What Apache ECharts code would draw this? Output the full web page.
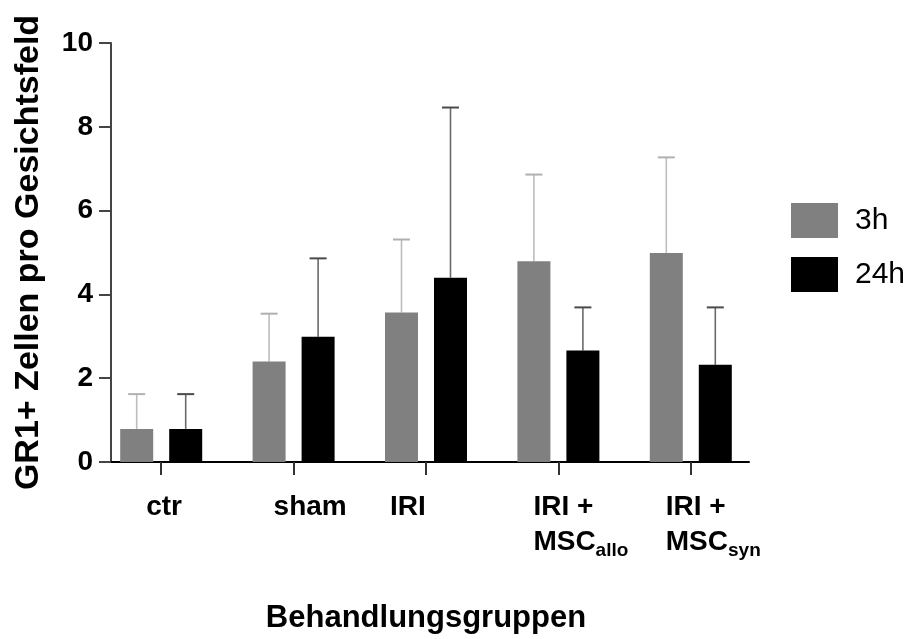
<!DOCTYPE html>
<html>
<head>
<meta charset="utf-8">
<script src="https://cdn.jsdelivr.net/npm/echarts@6/dist/echarts.min.js"></script>
<style>html,body{margin:0;padding:0;background:#fff}#c{width:910px;height:639px}</style>
</head>
<body>
<div id="c"></div>
<script>
// ---- data ----
const categories = ['ctr', 'sham', 'IRI', 'IRI +\nMSC{sub|allo}', 'IRI +\nMSC{sub|syn}'];
const seriesNames = ['3h', '24h'];
const mean3h = [0.79, 2.40, 3.57, 4.79, 4.99];
const sd3h = [0.83, 1.14, 1.74, 2.07, 2.28];
const mean24h = [0.79, 2.99, 4.40, 2.66, 2.32];
const sd24h = [0.83, 1.87, 4.06, 1.03, 1.37];
const yTicks = [0, 2, 4, 6, 8, 10];
const yTitle = 'GR1+ Zellen pro Gesichtsfeld';
const xTitle = 'Behandlungsgruppen';

// ---- styling ----
const FONT = 'Liberation Sans, Arial, sans-serif';
const labelShift = [-15, -20, -36, -25, -25];
const BAR_W = 33, BAR_GAP = 16;

const chart = echarts.init(document.getElementById('c'));

function errorSeries(name, means, sds, side, color, capColor) {
  return {
    type: 'custom',
    name: name + ' err',
    xAxisIndex: 0, yAxisIndex: 0,
    z: 1,
    silent: true,
    encode: { x: 0, y: 1 },
    data: means.map((m, i) => [i, m, sds[i]]),
    renderItem: function (params, api) {
      const i = api.value(0), m = api.value(1), s = api.value(2);
      const base = api.coord([i, m]);
      const top = api.coord([i, m + s]);
      const x = base[0] + side * (BAR_W / 2 + BAR_GAP / 2);
      const cap = 8.5;
      return {
        type: 'group',
        children: [
          { type: 'line', shape: { x1: x, y1: base[1], x2: x, y2: top[1] }, style: { stroke: color, lineWidth: 1.6 } },
          { type: 'line', shape: { x1: x - cap, y1: top[1], x2: x + cap, y2: top[1] }, style: { stroke: capColor, lineWidth: 2 } }
        ]
      };
    }
  };
}

const richStyles = {
  sub: { fontSize: 19, fontWeight: 'bold', color: '#000', fontFamily: FONT, lineHeight: 16, verticalAlign: 'bottom' }
};

const option = {
  backgroundColor: '#fff',
  animation: false,
  textStyle: { fontFamily: FONT },
  legend: {
    data: seriesNames,
    orient: 'vertical',
    left: 791, top: 203, padding: 0,
    itemWidth: 47, itemHeight: 35, itemGap: 19,
    icon: 'rect',
    textStyle: { fontSize: 30, color: '#000', fontFamily: FONT, padding: [0, 0, 0, 12] }
  },
  grid: [
    { left: 95, right: 153, top: 43, bottom: 177 },
    { left: 111, right: 161, top: 43, bottom: 177 }
  ],
  xAxis: [
    {
      type: 'category', gridIndex: 0,
      data: categories.map((c, i) => ({
        value: c,
        textStyle: {
          align: 'left', padding: [0, 0, 0, labelShift[i]],
          fontSize: 28, fontWeight: 'bold', color: '#000', fontFamily: FONT, lineHeight: 35,
          rich: richStyles
        }
      })),
      boundaryGap: true,
      offset: 4,
      axisLine: { show: false },
      axisTick: { show: true, alignWithLabel: true, length: 13, lineStyle: { color: '#333', width: 2 } },
      axisLabel: {
        interval: 0, margin: 24, align: 'left',
        fontSize: 28, fontWeight: 'bold', color: '#000', fontFamily: FONT, lineHeight: 35,
        rich: richStyles
      },
      name: xTitle, nameLocation: 'middle', nameGap: 137,
      nameTextStyle: { fontSize: 31, fontWeight: 'bold', color: '#000', fontFamily: FONT }
    },
    {
      type: 'value', gridIndex: 1, min: 0, max: 1,
      axisLine: { show: true, onZero: false, lineStyle: { color: '#000', width: 2 } },
      axisTick: { show: false }, axisLabel: { show: false }, splitLine: { show: false }
    }
  ],
  yAxis: [
    { type: 'value', gridIndex: 0, min: 0, max: 10, show: false, splitLine: { show: false } },
    {
      type: 'value', gridIndex: 1, min: yTicks[0], max: yTicks[yTicks.length - 1], interval: yTicks[1] - yTicks[0],
      axisLine: { show: true, lineStyle: { color: '#444', width: 2 } },
      axisTick: { show: true, length: 12, lineStyle: { color: '#444', width: 2 } },
      axisLabel: { margin: 18, fontSize: 28, fontWeight: 'bold', color: '#000', fontFamily: FONT },
      splitLine: { show: false },
      name: yTitle, nameLocation: 'middle', nameGap: 65, nameRotate: 90,
      nameTextStyle: { fontSize: 34, fontWeight: 'bold', color: '#000', fontFamily: FONT }
    }
  ],
  series: [
    {
      type: 'bar', name: seriesNames[0], xAxisIndex: 0, yAxisIndex: 0,
      data: mean3h, barWidth: BAR_W, barGap: (BAR_GAP / BAR_W * 100) + '%', z: 2,
      itemStyle: { color: '#808080' }
    },
    {
      type: 'bar', name: seriesNames[1], xAxisIndex: 0, yAxisIndex: 0,
      data: mean24h, barWidth: BAR_W, z: 2,
      itemStyle: { color: '#000000' }
    },
    errorSeries(seriesNames[0], mean3h, sd3h, -1, '#bdbdbd', '#b0b0b0'),
    errorSeries(seriesNames[1], mean24h, sd24h, 1, '#6a6a6a', '#4a4a4a')
  ]
};
chart.setOption(option);
</script>
</body>
</html>
